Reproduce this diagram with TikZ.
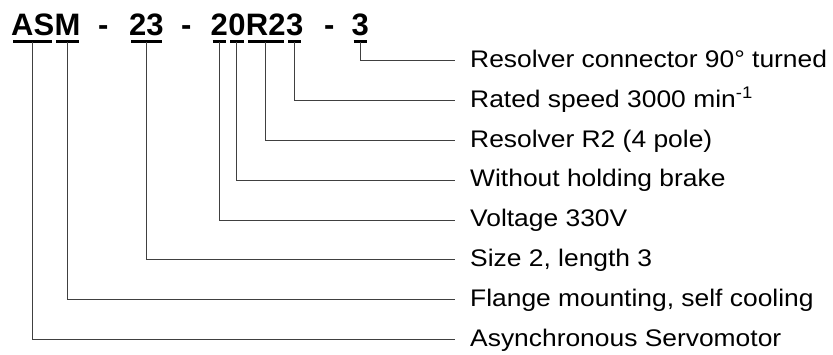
\documentclass[tikz,border=0pt]{standalone}
\usepackage{fontspec}
\setmainfont{Liberation Sans}
\newfontfamily\descfont[FakeStretch=1.1]{Liberation Sans}
\usetikzlibrary{positioning}

\begin{document}
\begin{tikzpicture}[
    x=1pt, y=-1pt,
    code/.style={
        inner sep=0pt,
        text depth=0pt,
        font=\fontsize{31}{36}\selectfont\bfseries
    },
    desc/.style={
        anchor=west,
        inner xsep=15pt,
        inner ysep=0pt,
        text height=15pt,
        text depth=1.6pt,
        font=\fontsize{24}{28}\selectfont\descfont
    },
    uline/.style={
        line width=2.6pt,
        shorten <=2pt,
        shorten >=2pt
    },
    link/.style={
        line width=1pt,
        black!75
    }
]
\useasboundingbox (0,0) rectangle (833,354);

% Type code
\node[code, anchor=base west] (asyn) at (11,35) {AS};
\node[code, base right=0pt of asyn] (flange) {M};
\node[code, anchor=base west] (dasha) at (98,35) {-};
\node[code, anchor=base west] (size) at (129,35) {23};
\node[code, anchor=base west] (dashb) at (181,35) {-};
\node[code, anchor=base west] (volt) at (210.5,35) {2};
\node[code, base right=0pt of volt] (brake) {0};
\node[code, base right=0pt of brake] (resolver) {R2};
\node[code, base right=0pt of resolver] (speed) {3};
\node[code, anchor=base west] (dashc) at (324,35) {-};
\node[code, anchor=base west] (turn) at (351.5,35) {3};

% Underlines
\draw[uline] ([yshift=-6.3pt]asyn.south west) -- ([yshift=-6.3pt]asyn.south east);
\draw[uline] ([yshift=-6.3pt]flange.south west) -- ([yshift=-6.3pt]flange.south east);
\draw[uline] ([yshift=-6.3pt]size.south west) -- ([yshift=-6.3pt]size.south east);
\draw[uline] ([yshift=-6.3pt]volt.south west) -- ([yshift=-6.3pt]volt.south east);
\draw[uline] ([yshift=-6.3pt]brake.south west) -- ([yshift=-6.3pt]brake.south east);
\draw[uline] ([yshift=-6.3pt]resolver.south west) -- ([yshift=-6.3pt]resolver.south east);
\draw[uline] ([yshift=-6.3pt]speed.south west) -- ([yshift=-6.3pt]speed.south east);
\draw[uline] ([yshift=-6.3pt]turn.south west) -- ([yshift=-6.3pt]turn.south east);

% Descriptions
\node[desc] (turnlbl) at (455,60.7) {Resolver connector 90° turned};
\node[desc] (speedlbl) at ([yshift=-39.85pt]turnlbl.west) {Rated speed 3000 min\textsuperscript{-1}};
\node[desc] (resolverlbl) at ([yshift=-39.85pt]speedlbl.west) {Resolver R2 (4 pole)};
\node[desc] (brakelbl) at ([yshift=-39.85pt]resolverlbl.west) {Without holding brake};
\node[desc] (voltlbl) at ([yshift=-39.85pt]brakelbl.west) {Voltage 330V};
\node[desc] (sizelbl) at ([yshift=-39.85pt]voltlbl.west) {Size 2, length 3};
\node[desc] (flangelbl) at ([yshift=-39.85pt]sizelbl.west) {Flange mounting, self cooling};
\node[desc] (asynlbl) at ([yshift=-39.85pt]flangelbl.west) {Asynchronous Servomotor};

% Connections
\draw[link] ([yshift=-7pt]turn.south) |- (turnlbl.west);
\draw[link] ([yshift=-7pt]speed.south) |- (speedlbl.west);
\draw[link] ([yshift=-7pt]resolver.south) |- (resolverlbl.west);
\draw[link] ([yshift=-7pt]brake.south) |- (brakelbl.west);
\draw[link] ([yshift=-7pt]volt.south) |- (voltlbl.west);
\draw[link] ([yshift=-7pt]size.south) |- (sizelbl.west);
\draw[link] ([yshift=-7pt]flange.south) |- (flangelbl.west);
\draw[link] ([yshift=-7pt]asyn.south) |- (asynlbl.west);

\end{tikzpicture}
\end{document}
